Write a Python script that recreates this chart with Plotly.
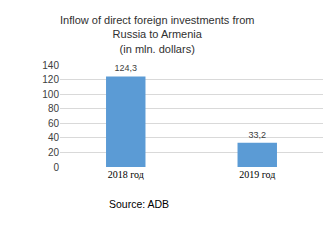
import plotly.graph_objects as go

categories = ["2018 год", "2019 год"]
values = [124.3, 33.2]
value_labels = ["124,3", "33,2"]
title_lines = ["Inflow of direct foreign investments from", "Russia to Armenia", "(in mln. dollars)"]
source_text = "Source: ADB"

fig = go.Figure()
fig.add_trace(go.Bar(
    x=categories, y=values, text=value_labels, textposition="outside",
    marker=dict(color="#5b9bd5", line=dict(width=0)),
    textfont=dict(family="Liberation Sans", size=9, color="#404040"),
    cliponaxis=False,
))

fig.update_layout(
    width=329, height=243,
    margin=dict(l=60, r=6, t=65, b=76),
    paper_bgcolor="white", plot_bgcolor="white",
    bargap=0.7, showlegend=False,
    font=dict(family="Liberation Sans", color="#404040"),
)
fig.update_yaxes(range=[0, 140], dtick=20, showgrid=True, gridcolor="#d9d9d9", gridwidth=1,
                 zeroline=False, showline=False, ticks="", ticklen=0,
                 tickfont=dict(family="Liberation Sans", size=10, color="#404040"))
fig.update_xaxes(showline=False, ticks="", showgrid=False,
                 tickfont=dict(family="Liberation Serif", size=10, color="#000000"))

fig.add_annotation(text="<br>".join(title_lines), xref="paper", yref="paper",
                   x=(157 - 60) / (329 - 66), y=1, yshift=8, xanchor="center", yanchor="bottom",
                   showarrow=False,
                   font=dict(family="Liberation Sans", size=11, color="#303030"))

fig.add_annotation(text=source_text, xref="paper", yref="paper",
                   x=(139 - 60) / (329 - 66), y=0, yshift=-37, xanchor="center", yanchor="middle",
                   showarrow=False, font=dict(family="Liberation Sans", size=10.5, color="#000000"))

fig.write_html("out.html")
